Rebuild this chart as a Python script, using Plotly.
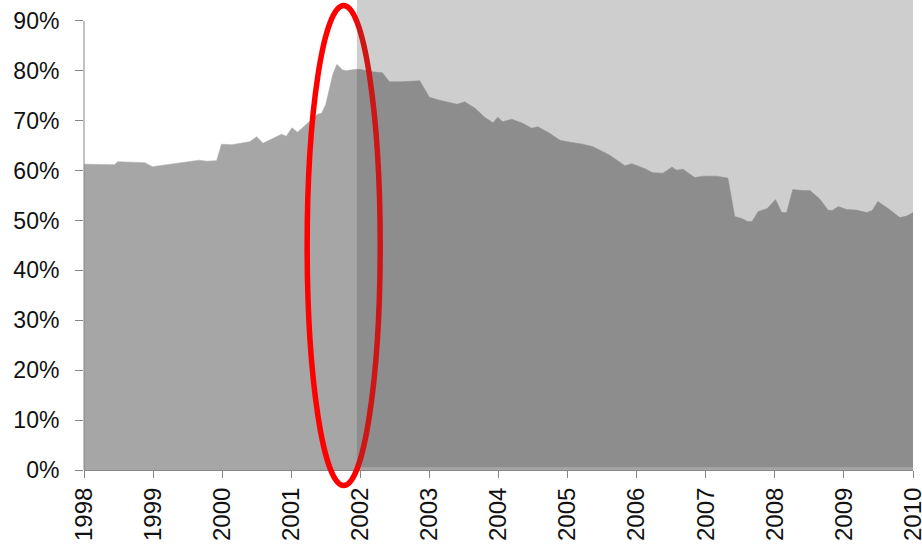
import plotly.graph_objects as go

# decimal years and share (%)
years = [1998.00, 1998.44, 1998.49, 1998.88, 1998.99, 1999.67, 1999.77, 1999.92, 1999.99,
         2000.14, 2000.40, 2000.50, 2000.59, 2000.73, 2000.86, 2000.93, 2001.01, 2001.09,
         2001.27, 2001.38, 2001.44, 2001.50, 2001.60, 2001.66, 2001.74, 2001.80, 2001.92,
         2001.99, 2002.18, 2002.32, 2002.42, 2002.57, 2002.86, 2003.00, 2003.15, 2003.40,
         2003.51, 2003.66, 2003.80, 2003.92, 2003.99, 2004.06, 2004.19, 2004.35, 2004.48,
         2004.57, 2004.74, 2004.89, 2005.00, 2005.22, 2005.37, 2005.61, 2005.83, 2005.93,
         2006.12, 2006.23, 2006.38, 2006.51, 2006.58, 2006.67, 2006.84, 2006.96, 2007.16,
         2007.32, 2007.42, 2007.52, 2007.61, 2007.67, 2007.76, 2007.89, 2008.01, 2008.10,
         2008.17, 2008.26, 2008.41, 2008.51, 2008.65, 2008.77, 2008.83, 2008.92, 2009.04,
         2009.18, 2009.33, 2009.41, 2009.49, 2009.62, 2009.81, 2009.91, 2010.00]
share = [61.3, 61.2, 61.8, 61.6, 60.8, 62.1, 61.9, 62.0, 65.3,
         65.2, 65.8, 66.8, 65.5, 66.5, 67.3, 66.9, 68.6, 67.7,
         70.0, 71.3, 71.5, 73.3, 79.2, 81.3, 80.2, 80.0, 80.3,
         80.3, 79.8, 79.6, 77.8, 77.8, 78.0, 74.7, 74.1, 73.3,
         73.8, 72.5, 70.7, 69.6, 70.7, 69.8, 70.3, 69.5, 68.5,
         68.8, 67.5, 66.1, 65.8, 65.3, 64.8, 63.1, 61.0, 61.4,
         60.4, 59.6, 59.5, 60.7, 60.1, 60.3, 58.6, 58.9, 58.9,
         58.5, 50.8, 50.4, 49.8, 49.8, 51.8, 52.4, 54.2, 51.6,
         51.6, 56.2, 56.0, 56.0, 54.3, 52.1, 52.0, 52.8, 52.2,
         52.1, 51.6, 52.0, 53.8, 52.6, 50.6, 50.9, 51.6]

tick_years = list(range(1998, 2011))
tick_labels = [str(y) for y in tick_years]
y_ticks = list(range(0, 100, 10))
y_labels = [f"{v}%" for v in y_ticks]

shade_start = 2001.95

fig = go.Figure()
fig.add_trace(go.Scatter(
    x=years, y=share, mode="lines", fill="tozeroy",
    line=dict(color="#a6a6a6", width=0.5), fillcolor="#a6a6a6",
    hoverinfo="skip", showlegend=False))

axis_col = "#868686"
shapes = [
    # y axis line (stops at 90%)
    dict(type="line", xref="paper", yref="y", x0=0, x1=0, y0=0, y1=90,
         line=dict(color=axis_col, width=1), layer="above"),
    # red ellipse
    dict(type="circle", xref="paper", yref="paper",
         x0=0.2692, x1=0.3573, y0=-0.033, y1=0.9883,
         line=dict(color="#ff0000", width=5.5), layer="above"),
    # translucent shading from 2002 onwards
    dict(type="rect", xref="x", yref="paper", x0=shade_start, x1=2010,
         y0=0.006, y1=1.0, fillcolor="rgba(80,80,80,0.28)",
         line=dict(width=0), layer="above"),
]

fig.update_layout(
    width=922, height=545,
    margin=dict(l=84, r=9, t=0, b=75),
    paper_bgcolor="white", plot_bgcolor="white",
    font=dict(family="Liberation Sans, Arial, sans-serif", color="#111111"),
    shapes=shapes,
    xaxis=dict(range=[1998, 2010], tickvals=tick_years, ticktext=tick_labels,
               tickangle=-90, ticks="outside", ticklen=7, tickcolor=axis_col,
               showline=True, linecolor=axis_col, linewidth=1,
               showgrid=False, zeroline=False, tickfont=dict(size=24),
               automargin=False, ticklabeloverflow="allow"),
    yaxis=dict(range=[0, 94.2], tickvals=y_ticks, ticktext=y_labels,
               ticks="outside", ticklen=8, tickcolor=axis_col,
               showline=False, showgrid=False, zeroline=False,
               tickfont=dict(size=23), ticklabelstandoff=11,
               automargin=False, ticklabeloverflow="allow"),
)

fig.write_html("out.html", config={"displayModeBar": False},
               post_script="document.body.style.margin='0';document.body.style.overflow='hidden';")
